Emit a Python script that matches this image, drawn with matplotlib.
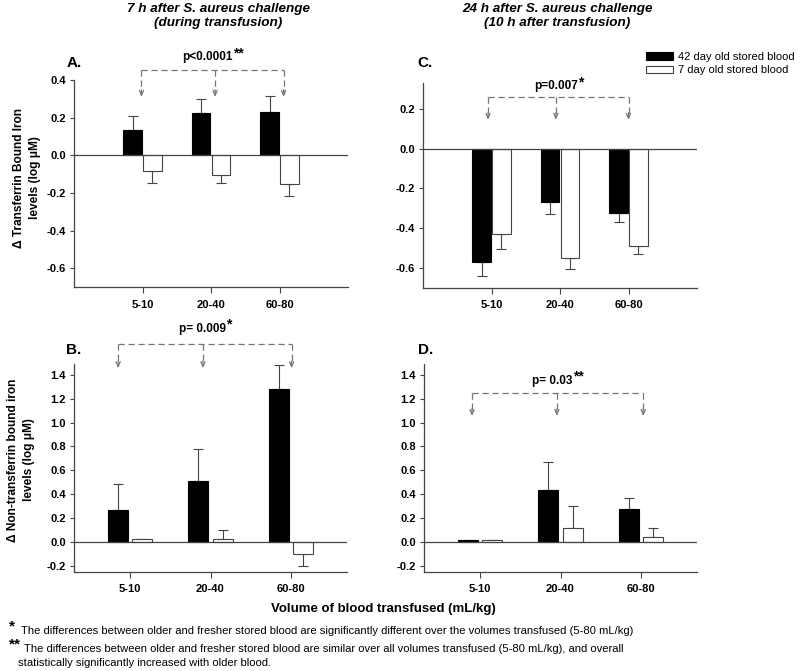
import matplotlib
matplotlib.use("Agg")
import matplotlib.pyplot as plt
from matplotlib.patches import Patch
from matplotlib.transforms import offset_copy
import numpy as np

plt.rcParams['font.family'] = ['Liberation Sans', 'DejaVu Sans']
plt.rcParams['axes.unicode_minus'] = False

volumes = ["5-10", "20-40", "60-80"]
series = ["42 day old stored blood", "7 day old stored blood"]

# panel A: transferrin bound iron, 7 h
a_old = [0.133, 0.226, 0.232]
a_old_err = [0.076, 0.072, 0.084]
a_new = [-0.081, -0.105, -0.153]
a_new_err = [0.066, 0.041, 0.065]

# panel C: transferrin bound iron, 24 h
c_old = [-0.570, -0.270, -0.325]
c_old_err = [0.072, 0.058, 0.045]
c_new = [-0.428, -0.550, -0.490]
c_new_err = [0.075, 0.057, 0.040]

# panel B: non-transferrin bound iron, 7 h
b_old = [0.269, 0.513, 1.280]
b_old_err = [0.216, 0.267, 0.200]
b_new = [0.022, 0.022, -0.100]
b_new_err = [0.0, 0.076, 0.100]

# panel D: non-transferrin bound iron, 24 h
d_old = [0.017, 0.432, 0.275]
d_old_err = [0.0, 0.236, 0.093]
d_new = [0.017, 0.115, 0.039]
d_new_err = [0.0, 0.188, 0.076]

p_texts = ["p<0.0001", "p=0.007", "p= 0.009", "p= 0.03"]
p_stars = ["**", "*", "*", "**"]

W, H = 800, 671
GRAY = "#444444"
DASH = "#777777"


def box(l, t, r, b):
    return [l / W, 1 - b / H, (r - l) / W, (b - t) / H]


def one_sided(vals, errs):
    lower = [e if v < 0 else 0 for v, e in zip(vals, errs)]
    upper = [e if v >= 0 else 0 for v, e in zip(vals, errs)]
    return [lower, upper]


def draw_panel(ax, old, old_err, new, new_err, ylim, yticks, xlim, width, off):
    x = np.arange(1, len(volumes) + 1)
    ax.bar(x - off, old, width, color="black", edgecolor="black", linewidth=0.8, zorder=3)
    ax.bar(x + off, new, width, color="white", edgecolor=GRAY, linewidth=0.8, zorder=3)
    ax.errorbar(x - off, old, yerr=one_sided(old, old_err), fmt="none", ecolor=GRAY,
                elinewidth=0.8, capsize=3.5, capthick=0.8, zorder=2)
    ax.errorbar(x + off, new, yerr=one_sided(new, new_err), fmt="none", ecolor=GRAY,
                elinewidth=0.8, capsize=3.5, capthick=0.8, zorder=2)
    ax.axhline(0, color=GRAY, lw=0.9, zorder=4)
    ax.set_xlim(*xlim)
    ax.set_ylim(*ylim)
    ax.set_xticks(x)
    ax.set_xticklabels(volumes, fontsize=8, fontweight="bold")
    ax.set_yticks(yticks)
    ax.set_yticklabels([f"{t:.1f}" for t in yticks], fontsize=8, fontweight="bold")
    for s in ["top", "right"]:
        ax.spines[s].set_visible(False)
    for s in ["left", "bottom"]:
        ax.spines[s].set_color(GRAY)
        ax.spines[s].set_linewidth(0.9)
    ax.tick_params(axis="x", length=4, width=0.8, color=GRAY, pad=5)
    ax.tick_params(axis="y", length=3, width=0.8, color=GRAY, pad=3)


def bracket(ax, xs, y_top, y_tip, text, stars, y_text):
    ax.plot([xs[0], xs[-1]], [y_top, y_top], ls=(0, (5, 3)), color=DASH, lw=0.9, clip_on=False)
    span = ax.get_ylim()[1] - ax.get_ylim()[0]
    for xv in xs:
        ax.plot([xv, xv], [y_top, y_tip + 0.03 * span], ls=(0, (5, 3)), color=DASH, lw=0.9,
                clip_on=False)
        ax.annotate("", xy=(xv, y_tip), xytext=(xv, y_tip + 0.035 * span),
                    arrowprops=dict(arrowstyle="->,head_length=0.35,head_width=0.15",
                                    color=DASH, lw=0.9, shrinkA=0, shrinkB=0),
                    annotation_clip=False)
    # main text and raised asterisks; shift the pair so it is centred
    main = ax.text(np.mean([xs[0], xs[-1]]), y_text, text, ha="left", va="center",
                   fontsize=8.5, fontweight="bold")
    fig.canvas.draw()
    ext = main.get_window_extent()
    star_w = {1: 5, 2: 10}[len(stars)]
    shift = -(ext.width + star_w) / 2
    main.set_transform(offset_copy(ax.transData, fig=fig, x=shift, y=0, units="dots"))
    ax.text(np.mean([xs[0], xs[-1]]), y_text, stars, ha="left", va="center",
            fontsize=10, fontweight="bold",
            transform=offset_copy(ax.transData, fig=fig, x=shift + ext.width + 0.5, y=4,
                                  units="dots"))


fig = plt.figure(figsize=(8, 6.71), dpi=100)

ax_a = fig.add_axes(box(74, 80, 348, 287))
ax_c = fig.add_axes(box(423, 83, 697, 288))
ax_b = fig.add_axes(box(74, 364, 347, 572))
ax_d = fig.add_axes(box(424, 364, 697, 572))

tb_ticks = [-0.6, -0.4, -0.2, 0.0, 0.2, 0.4]
ntb_ticks = [-0.2, 0.0, 0.2, 0.4, 0.6, 0.8, 1.0, 1.2, 1.4]

draw_panel(ax_a, a_old, a_old_err, a_new, a_new_err, (-0.7, 0.4), tb_ticks, (0, 4), 0.27, 0.145)
draw_panel(ax_c, c_old, c_old_err, c_new, c_new_err, (-0.7, 0.33), tb_ticks[:-1], (0, 4), 0.27, 0.145)
draw_panel(ax_b, b_old, b_old_err, b_new, b_new_err, (-0.25, 1.49), ntb_ticks, (0.3, 3.7), 0.25, 0.15)
draw_panel(ax_d, d_old, d_old_err, d_new, d_new_err, (-0.25, 1.49), ntb_ticks, (0.3, 3.7), 0.25, 0.15)

bracket(ax_a, [0.985, 2.06, 3.06], 0.453, 0.31, p_texts[0], p_stars[0], 0.52)
bracket(ax_c, [0.95, 1.94, 3.0], 0.26, 0.145, p_texts[1], p_stars[1], 0.315)
bracket(ax_b, [0.85, 1.906, 3.01], 1.658, 1.455, p_texts[2], p_stars[2], 1.785)
bracket(ax_d, [0.898, 1.955, 3.03], 1.25, 1.055, p_texts[3], p_stars[3], 1.35)

# column titles
fig.text(218 / W, 1 - 16 / H, "7 h after S. aureus challenge\n(during transfusion)",
         ha="center", va="center", fontsize=9.7, fontweight="bold", style="italic",
         linespacing=1.25)
fig.text(557 / W, 1 - 16 / H, "24 h after S. aureus challenge\n(10 h after transfusion)",
         ha="center", va="center", fontsize=9.7, fontweight="bold", style="italic",
         linespacing=1.25)

# panel letters
for lab, px, py in [("A.", 67, 63), ("C.", 417, 63), ("B.", 66, 350), ("D.", 418, 350)]:
    fig.text(px / W, 1 - py / H, lab, ha="left", va="center", fontsize=11, fontweight="bold")

# y labels
fig.text(27 / W, 1 - 178 / H, "\u0394 Transferrin Bound Iron\nlevels (log \u03bcM)",
         rotation=90, ha="center", va="center", fontsize=8.6, fontweight="bold",
         multialignment="center", linespacing=1.45)
fig.text(21 / W, 1 - 460 / H, "\u0394 Non-transferrin bound iron\nlevels (log \u03bcM)",
         rotation=90, ha="center", va="center", fontsize=8.6, fontweight="bold",
         multialignment="center", linespacing=1.45)

# legend
handles = [Patch(facecolor="black", edgecolor="black", linewidth=0.8),
           Patch(facecolor="white", edgecolor=GRAY, linewidth=0.8)]
fig.legend(handles, series, loc="upper left", bbox_to_anchor=(646 / W, 1 - 52 / H),
           frameon=False, fontsize=8, handlelength=2.4, handleheight=0.7,
           handletextpad=0.5, labelspacing=0.3, borderpad=0, borderaxespad=0)

# shared x label and footnotes
fig.text(383 / W, 1 - 609 / H, "Volume of blood transfused (mL/kg)", ha="center", va="center",
         fontsize=9.5, fontweight="bold")
note_font = ["Liberation Sans Narrow", "Liberation Sans", "DejaVu Sans"]
fig.text(9 / W, 1 - 626 / H, "*", ha="left", va="center", fontsize=11, fontweight="bold")
fig.text(21 / W, 1 - 631 / H,
         "The differences between older and fresher stored blood are significantly different "
         "over the volumes transfused (5-80 mL/kg)",
         ha="left", va="center", fontsize=8.1, family=note_font)
fig.text(9 / W, 1 - 644 / H, "**", ha="left", va="center", fontsize=11, fontweight="bold")
fig.text(24 / W, 1 - 649 / H,
         "The differences between older and fresher stored blood are similar over all volumes "
         "transfused (5-80 mL/kg), and overall",
         ha="left", va="center", fontsize=8.1, family=note_font)
fig.text(18 / W, 1 - 663 / H, "statistically significantly increased with older blood.",
         ha="left", va="center", fontsize=8.1, family=note_font)

fig.savefig("out.png", dpi=100)
